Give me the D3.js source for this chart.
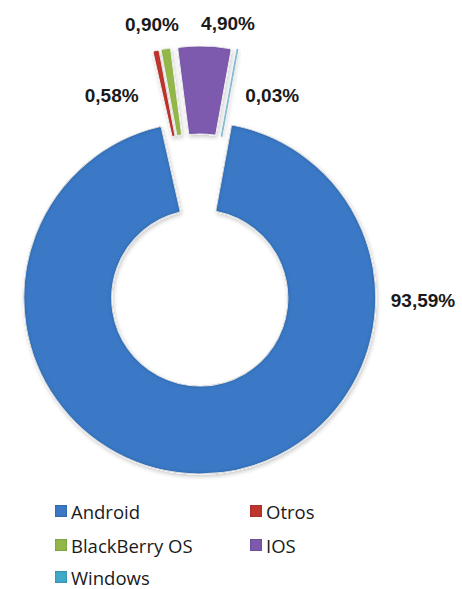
<!DOCTYPE html>
<html>
<head>
<meta charset="utf-8">
<script src="https://cdn.jsdelivr.net/npm/d3@7"></script>
<style>
  html, body { margin: 0; padding: 0; background: #ffffff; }
  svg { display: block; }
</style>
</head>
<body>
<svg id="chart" width="462" height="589"></svg>
<script>
// ---- data ----
const categories = ["Android", "Otros", "BlackBerry OS", "IOS", "Windows"];
const values = [93.59, 0.58, 0.90, 4.90, 0.03];
const valueLabels = ["93,59%", "0,58%", "0,90%", "4,90%", "0,03%"];
const colors = ["#3B79C6", "#C0352E", "#93B848", "#7D5AAE", "#3FA9C9"];

// ---- layout ----
const cx = 199, cy = 260;
const R = 176, r = 88;
const explode = 38;
const startDeg = 10.4;

const svg = d3.select("#chart");
const defs = svg.append("defs");

// bevel-like edge darkening
function bevel(id, sd, op) {
  const f = defs.append("filter").attr("id", id)
    .attr("x", "-10%").attr("y", "-10%").attr("width", "120%").attr("height", "120%");
  f.append("feGaussianBlur").attr("in", "SourceAlpha").attr("stdDeviation", sd).attr("result", "blur");
  f.append("feComposite").attr("in", "SourceAlpha").attr("in2", "blur")
    .attr("operator", "arithmetic").attr("k2", 1).attr("k3", -1).attr("result", "edge");
  f.append("feFlood").attr("flood-color", "#0a1a33").attr("flood-opacity", op);
  f.append("feComposite").attr("in2", "edge").attr("operator", "in").attr("result", "shade");
  f.append("feMerge").selectAll("feMergeNode")
    .data(["SourceGraphic", "shade"]).join("feMergeNode").attr("in", d => d);
}
bevel("bevel", 2.2, 0.75);
bevel("bevelSmall", 1.2, 0.6);

// soft shadow
const s = defs.append("filter").attr("id", "shadow")
  .attr("x", "-10%").attr("y", "-10%").attr("width", "130%").attr("height", "130%");
s.append("feGaussianBlur").attr("in", "SourceAlpha").attr("stdDeviation", 2).attr("result", "b");
s.append("feOffset").attr("in", "b").attr("dx", 1).attr("dy", 2).attr("result", "o");
s.append("feComponentTransfer").attr("in", "o").attr("result", "o2")
  .append("feFuncA").attr("type", "linear").attr("slope", 0.22);
s.append("feMerge").selectAll("feMergeNode")
  .data(["o2", "SourceGraphic"]).join("feMergeNode").attr("in", d => d);

const a0 = startDeg * Math.PI / 180;
const pie = d3.pie().sort(null).value(d => d)
  .startAngle(a0).endAngle(a0 + 2 * Math.PI);
const arcs = pie(values);
const arc = d3.arc().innerRadius(r).outerRadius(R).cornerRadius(2);

const g = svg.append("g").attr("transform", `translate(${cx},${cy})`);

const slices = g.selectAll("g.slice").data(arcs).join("g")
  .attr("class", "slice")
  .attr("filter", "url(#shadow)")
  .attr("transform", d => {
    const m = (d.startAngle + d.endAngle) / 2;
    return `translate(${explode * Math.sin(m)},${-explode * Math.cos(m)})`;
  });

slices.append("path")
  .attr("d", arc)
  .attr("fill", (d, i) => colors[i])
  .attr("stroke", (d, i) => i === 4 ? "#9ED6EA" : "#ffffff")
  .attr("stroke-width", (d, i) => i === 4 ? 1.6 : 1.2)
  .attr("stroke-linejoin", "round")
  .attr("filter", (d, i) => i === 0 ? "url(#bevel)" : "url(#bevelSmall)");

// ---- value labels (polar placement around chart centre) ----
const labelPlace = [
  { ang: 90, rad: 224, dy: 40 },    // Android
  { ang: -28, rad: 186, dy: 0 },    // Otros
  { ang: -11.3, rad: 240, dy: 0 },  // BlackBerry
  { ang: 7, rad: 238, dy: 0 },      // IOS
  { ang: 24, rad: 180, dy: 0 }      // Windows
];
g.selectAll("text.val").data(arcs).join("text")
  .attr("class", "val")
  .attr("x", (d, i) => labelPlace[i].rad * Math.sin(labelPlace[i].ang * Math.PI / 180))
  .attr("y", (d, i) => -labelPlace[i].rad * Math.cos(labelPlace[i].ang * Math.PI / 180) + labelPlace[i].dy)
  .attr("text-anchor", "middle")
  .attr("dominant-baseline", "central")
  .attr("font-family", "'Liberation Sans', Arial, sans-serif")
  .attr("font-weight", "bold")
  .attr("font-size", 19)
  .attr("fill", "#1a1a1a")
  .text((d, i) => valueLabels[i]);

// ---- legend ----
const legendCols = [55, 250];
const legendRows = [511, 545, 577];
const lg = svg.append("g");
const items = lg.selectAll("g").data(categories).join("g")
  .attr("transform", (d, i) => `translate(${legendCols[i % 2]},${legendRows[Math.floor(i / 2)]})`);
items.append("rect")
  .attr("x", 0).attr("y", -6).attr("width", 12).attr("height", 12)
  .attr("fill", (d, i) => colors[i])
  .attr("filter", "url(#bevelSmall)");
items.append("text")
  .attr("x", 16).attr("y", 0)
  .attr("dominant-baseline", "central")
  .attr("font-family", "'Open Sans', 'Noto Sans', sans-serif")
  .attr("font-size", 18.5)
  .attr("fill", "#1a1a1a")
  .text(d => d);
</script>
</body>
</html>
